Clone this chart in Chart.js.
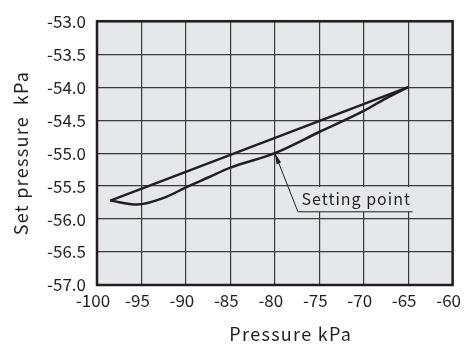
<!DOCTYPE html>
<html><head><meta charset="utf-8">
<script src="https://cdn.jsdelivr.net/npm/chart.js@4.4.1/dist/chart.umd.min.js"></script>
<style>html,body{margin:0;padding:0;background:#fff}</style>
</head><body>
<canvas id="c" width="470" height="345"></canvas>
<script>
// ---- data ----
const xTicks = [-100, -95, -90, -85, -80, -75, -70, -65, -60];
const yTicks = [-57.0, -56.5, -56.0, -55.5, -55.0, -54.5, -54.0, -53.5, -53.0];
const upperX = [-98.5, -65];
const upperY = [-55.72, -54.0];
const lowerX = [-65, -67.5, -70, -75, -80, -85, -87.5, -90, -92.5, -95.5, -98.5];
const lowerY = [-54.0, -54.17, -54.36, -54.68, -55.0, -55.22, -55.37, -55.52, -55.68, -55.78, -55.72];
const xTitle = 'Pressure kPa';
const yTitle = 'Set pressure  kPa';
const noteText = 'Setting point';
const notePoint = [-80, -55.0];
const noteElbow = [-77.4, -55.89];
const noteEndX = -64.5;
const noteBoxTop = -55.5;
const noteTextPos = [-77.0, -55.79];

const FONT = '"Noto Sans CJK JP", "Noto Sans", sans-serif';
const INK = '#231f20';
Chart.defaults.font.family = FONT;
Chart.defaults.color = INK;

const toPts = (xs, ys) => xs.map((x, i) => ({x, y: ys[i]}));

const bgPlugin = {
  id: 'bg',
  beforeDraw(chart) {
    const {ctx, chartArea: a} = chart;
    ctx.save();
    ctx.fillStyle = '#e6e7e8';
    ctx.fillRect(a.left, a.top, a.right - a.left, a.bottom - a.top);
    ctx.restore();
  },
  beforeDatasetsDraw(chart) {
    const {ctx, chartArea: a, scales: {x, y}} = chart;
    const x0 = x.getPixelForValue(noteElbow[0]);
    const yT = y.getPixelForValue(noteBoxTop) + 1;
    const yB = y.getPixelForValue(noteElbow[1]);
    ctx.save();
    ctx.fillStyle = '#e6e7e8';
    ctx.fillRect(x0, yT, a.right - x0, yB - yT);
    ctx.restore();
  },
  afterDatasetsDraw(chart) {
    const {ctx, chartArea: a, scales: {x, y}} = chart;
    ctx.save();
    ctx.strokeStyle = INK;
    ctx.lineWidth = 2.5;
    ctx.strokeRect(a.left, a.top, a.right - a.left, a.bottom - a.top);
    const px = x.getPixelForValue(notePoint[0]), py = y.getPixelForValue(notePoint[1]);
    const ex = x.getPixelForValue(noteElbow[0]), ey = y.getPixelForValue(noteElbow[1]);
    const endX = x.getPixelForValue(noteEndX);
    ctx.lineWidth = 1;
    ctx.beginPath();
    ctx.moveTo(endX, ey);
    ctx.lineTo(ex, ey);
    ctx.lineTo(px, py);
    ctx.stroke();
    const ang = Math.atan2(py - ey, px - ex);
    const L = 11, W = 2.4;
    ctx.fillStyle = INK;
    ctx.beginPath();
    ctx.moveTo(px, py);
    ctx.lineTo(px - L * Math.cos(ang) + W * Math.sin(ang), py - L * Math.sin(ang) - W * Math.cos(ang));
    ctx.lineTo(px - L * Math.cos(ang) - W * Math.sin(ang), py - L * Math.sin(ang) + W * Math.cos(ang));
    ctx.closePath();
    ctx.fill();
    ctx.font = '16px ' + FONT;
    ctx.letterSpacing = '1px';
    ctx.textBaseline = 'alphabetic';
    ctx.textAlign = 'left';
    ctx.fillText(noteText, x.getPixelForValue(noteTextPos[0]), y.getPixelForValue(noteTextPos[1]));
    ctx.font = '18px ' + FONT;
    ctx.letterSpacing = '1.3px';
    ctx.textAlign = 'center';
    ctx.textBaseline = 'middle';
    ctx.fillText(xTitle, (a.left + a.right) / 2 + 16, 334);
    ctx.translate(21, (a.top + a.bottom) / 2);
    ctx.rotate(-Math.PI / 2);
    ctx.fillText(yTitle, 0, 0);
    ctx.restore();
  }
};

new Chart(document.getElementById('c'), {
  type: 'scatter',
  data: {
    datasets: [
      {data: toPts(upperX, upperY), showLine: true, borderColor: INK, borderWidth: 2.5, pointRadius: 0, tension: 0, fill: false},
      {data: toPts(lowerX, lowerY), showLine: true, borderColor: INK, borderWidth: 2.5, pointRadius: 0, cubicInterpolationMode: 'monotone', fill: false}
    ]
  },
  options: {
    responsive: false,
    devicePixelRatio: 1,
    animation: false,
    events: [],
    layout: {padding: {left: 0, right: 17, top: 17, bottom: 0}},
    plugins: {legend: {display: false}, tooltip: {enabled: false}},
    scales: {
      x: {
        type: 'linear', min: -100, max: -60,
        afterBuildTicks: s => { s.ticks = xTicks.map(v => ({value: v})); },
        afterFit: s => { s.height = 60; },
        grid: {color: '#3a3a3a', lineWidth: 1.2, drawTicks: false},
        border: {display: false},
        ticks: {font: {size: 17}, padding: 5, labelOffset: -4, maxRotation: 0, autoSkip: false, callback: v => String(v)}
      },
      y: {
        type: 'linear', min: -57, max: -53,
        afterBuildTicks: s => { s.ticks = yTicks.map(v => ({value: v})); },
        afterFit: s => { s.width = 97; },
        grid: {color: '#3a3a3a', lineWidth: 1.2, drawTicks: false},
        border: {display: false},
        ticks: {font: {size: 17}, padding: 11, autoSkip: false, callback: v => Number(v).toFixed(1)}
      }
    }
  },
  plugins: [bgPlugin]
});
</script>
</body></html>
